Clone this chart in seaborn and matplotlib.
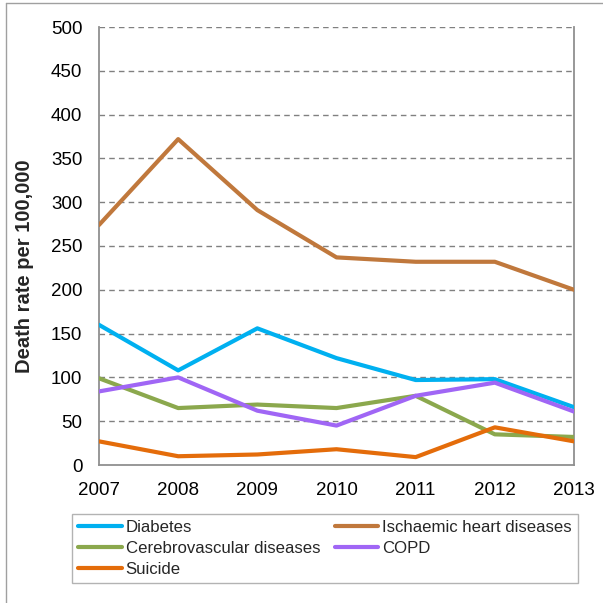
import matplotlib
matplotlib.use("Agg")
import matplotlib.pyplot as plt
from matplotlib.lines import Line2D
import seaborn as sns
import pandas as pd

years = [2007, 2008, 2009, 2010, 2011, 2012, 2013]
diabetes = [160, 108, 156, 122, 97, 98, 66]
ischaemic = [274, 372, 291, 237, 232, 232, 200]
cerebrovascular = [99, 65, 69, 65, 79, 35, 32]
copd = [84, 100, 62, 45, 79, 94, 61]
suicide = [27, 10, 12, 18, 9, 43, 27]

series_names = ["Diabetes", "Ischaemic heart diseases", "Cerebrovascular diseases",
                "COPD", "Suicide"]
series_values = [diabetes, ischaemic, cerebrovascular, copd, suicide]
colors = ["#00B0F0", "#C0783C", "#8BA84D", "#A066F5", "#E46C0A"]

rows = []
for name, vals in zip(series_names, series_values):
    for y, v in zip(years, vals):
        rows.append({"Year": y, "Rate": v, "Cause": name})
df = pd.DataFrame(rows)

sns.set_style("white")
plt.rcParams["font.family"] = ["Liberation Sans", "DejaVu Sans"]

fig = plt.figure(figsize=(6.03, 6.03), dpi=100)
ax = fig.add_axes([99 / 603, 1 - 465 / 603, 475 / 603, 438 / 603])

sns.lineplot(data=df, x="Year", y="Rate", hue="Cause", hue_order=series_names,
             palette=dict(zip(series_names, colors)), linewidth=3.0,
             legend=False, ax=ax, zorder=3)

ax.set_xlim(2007, 2013)
ax.set_ylim(0, 500)
ax.set_xticks(years)
ax.set_yticks(range(0, 501, 50))
ax.tick_params(axis="both", length=0, labelsize=13.5, colors="black")
ax.tick_params(axis="y", pad=12)
ax.tick_params(axis="x", pad=12)
ax.set_xlabel("")
ax.set_ylabel("Death rate per 100,000", fontsize=14.5, fontweight="bold")
ax.yaxis.set_label_coords(-0.136, 0.455)

for y in range(50, 501, 50):
    ax.axhline(y, color="#808080", linewidth=1.0, linestyle=(0, (4, 3)), zorder=1)

for side in ["left", "bottom", "right"]:
    ax.spines[side].set_color("#909090")
    ax.spines[side].set_linewidth(1.3)
ax.spines["top"].set_visible(False)

handles = [Line2D([0], [0], color=c, linewidth=3.0, solid_capstyle="round") for c in colors]
order = [0, 2, 4, 1, 3]
leg = fig.legend([handles[i] for i in order], [series_names[i] for i in order],
                 ncol=2, loc="upper left", bbox_to_anchor=(72 / 603, 1 - 514 / 603),
                 fontsize=12.1, frameon=True, fancybox=False, handlelength=2.6,
                 handletextpad=0.25, columnspacing=0.85, labelspacing=0.36,
                 borderpad=0.35, borderaxespad=0)
leg.get_frame().set_edgecolor("#A0A0A0")
leg.get_frame().set_linewidth(1.0)

# outer frame lines
fig.add_artist(Line2D([6 / 603, 6 / 603], [0, 1 - 3 / 603], color="#A0A0A0",
                      linewidth=1.0, transform=fig.transFigure))
fig.add_artist(Line2D([6 / 603, 1], [1 - 3 / 603, 1 - 3 / 603], color="#A0A0A0",
                      linewidth=1.0, transform=fig.transFigure))

fig.savefig("out.png", dpi=100)
